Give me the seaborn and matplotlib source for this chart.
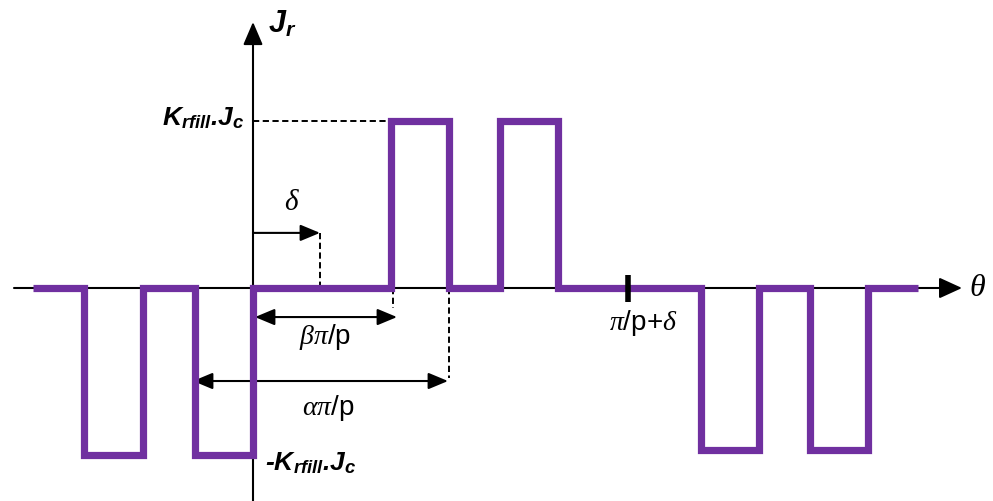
import matplotlib
matplotlib.use('Agg')
import matplotlib.pyplot as plt
import seaborn as sns
import pandas as pd

# Bentuk gelombang J_r (titik tepi, nilai setelah tepi)
theta_edges = [-220, -169, -110, -58, 0, 138, 196, 247, 305, 448, 506, 557, 615, 665]
jr_levels = [0, -1, 0, -1, 0, 1, 0, 1, 0, -0.97, 0, -0.97, 0, 0]

# Posisi penanda sudut
delta = 67
beta_end = 140
alpha_start = -60
alpha_end = 196
pi_p_delta = 375

df = pd.DataFrame({'theta': theta_edges, 'Jr': jr_levels})

sns.set_style('white')
plt.rcParams['text.color'] = 'k'
plt.rcParams['mathtext.fontset'] = 'custom'
plt.rcParams['mathtext.it'] = 'Liberation Serif:italic'
plt.rcParams['mathtext.rm'] = 'Liberation Sans'
plt.rcParams['mathtext.bf'] = 'Liberation Sans:italic:bold'

fig = plt.figure(figsize=(9.93, 5.01), dpi=100)
ax = fig.add_axes([0, 0, 1, 1])

purple = '#7030A0'


def arrow(x0, y0, x1, y1, style='-|>', hl=0.6, hw=0.28, lw=1.5):
    ax.annotate('', xy=(x1, y1), xytext=(x0, y0),
                arrowprops=dict(arrowstyle=f'{style},head_length={hl},head_width={hw}',
                                lw=lw, color='k', shrinkA=0, shrinkB=0,
                                mutation_scale=20), zorder=2)


# gelombang
sns.lineplot(data=df, x='theta', y='Jr', drawstyle='steps-post', estimator=None,
             sort=False, color=purple, lw=5.2, ax=ax, zorder=3,
             solid_joinstyle='miter', solid_capstyle='butt')
ax.set_xlim(-253, 740)
ax.set_ylim(-1.2755, 1.7246)
ax.axis('off')

# sumbu
arrow(-239, 0, 709, 0, hl=0.7, hw=0.32)
arrow(0, -1.3, 0, 1.593, hl=0.7, hw=0.3)

# garis putus-putus
dash = dict(color='k', lw=1.4, ls=(0, (3.2, 1.8)), zorder=1)
ax.plot([0, 137], [1.0, 1.0], **dash)
ax.plot([delta, delta], [0.33, 0], **dash)
ax.plot([beta_end, beta_end], [0, -0.12], **dash)
ax.plot([alpha_end, alpha_end], [0, -0.54], **dash)

# panah dimensi
arrow(0, 0.33, delta, 0.33, hl=0.6, hw=0.25)
arrow(2, -0.174, 144, -0.174, style='<|-|>', hl=0.6, hw=0.25)
arrow(alpha_start, -0.557, 195, -0.557, style='<|-|>', hl=0.6, hw=0.25)

# tanda pi/p + delta
ax.plot([pi_p_delta, pi_p_delta], [0.078, -0.084], color='k', lw=4, zorder=4,
        solid_capstyle='butt')

# teks
ax.text(39, 0.515, r'$\delta$', fontsize=21, ha='center', va='center', color='k')
ax.text(72, -0.293, r'$\beta\pi$/p', fontsize=20, ha='center', va='center',
        family='Liberation Sans', color='k')
ax.text(75, -0.719, r'$\alpha\pi$/p', fontsize=20, ha='center', va='center',
        family='Liberation Sans', color='k')
ax.text(390, -0.21, r'$\pi$/p+$\delta$', fontsize=20, ha='center', va='center',
        family='Liberation Sans', color='k')
ax.text(724, 0, r'$\theta$', fontsize=23, ha='center', va='center', color='k')
ax.text(15, 1.58, r'$\mathbf{J}_{\mathbf{r}}$', fontsize=22, ha='left', va='center',
        color='k')
ax.text(-8, 1.018, r'$\mathbf{K}_{\mathbf{rfill}}$' + '.' + r'$\mathbf{J}_{\mathbf{c}}$',
        fontsize=19, ha='right', va='center', family='Liberation Sans',
        fontweight='bold', fontstyle='italic', color='k')
ax.text(12, -1.048, '-' + r'$\mathbf{K}_{\mathbf{rfill}}$' + '.' + r'$\mathbf{J}_{\mathbf{c}}$',
        fontsize=19, ha='left', va='center', family='Liberation Sans',
        fontweight='bold', fontstyle='italic', color='k')

fig.savefig('out.png', dpi=100)
